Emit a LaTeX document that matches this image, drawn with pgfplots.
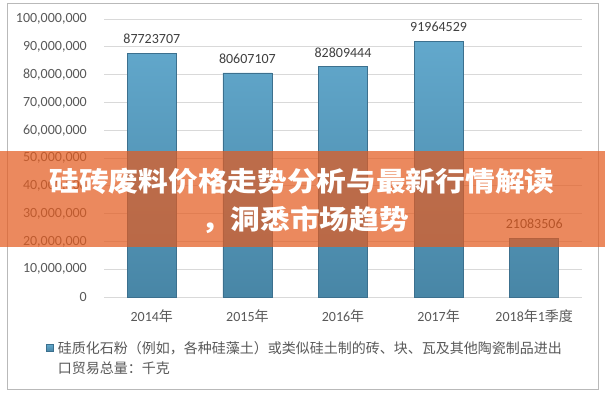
\documentclass[border=0pt]{standalone}
\usepackage{fontspec}
\setmainfont{Carlito}
\newfontfamily\cjk{Noto Sans CJK SC}
\usepackage{graphicx}
\usepackage{pgfplots}
\usepackage{pgfplotstable}
\pgfplotsset{compat=1.18}

\definecolor{tickgray}{RGB}{89,89,89}
\definecolor{labelgray}{RGB}{64,64,64}
\definecolor{gridgray}{RGB}{217,217,217}
\definecolor{barTop}{RGB}{98,168,204}
\definecolor{barBot}{RGB}{72,134,166}
\definecolor{barLine}{RGB}{60,112,142}
\definecolor{framegray}{RGB}{185,185,185}
\definecolor{banner}{RGB}{228,92,32}

% export volume (kg)
\pgfplotstableread{
x y label
0 87723707 87723707
1 80607107 80607107
2 82809444 82809444
3 91964529 91964529
4 21083506 21083506
}\trade

\begin{document}
\begin{tikzpicture}[x=1pt,y=1pt]
\path[use as bounding box] (0,0) rectangle (605,400);
\fill[white] (0,0) rectangle (605,400);
\draw[framegray, line width=1pt] (7,11) rectangle (598,396);

\begin{axis}[
    at={(104pt,103pt)}, anchor=south west,
    scale only axis, width=478pt, height=278pt,
    xmin=-0.5, xmax=4.5, ymin=0, ymax=100000000,
    axis line style={draw=none},
    tick style={draw=none},
    ymajorgrids, grid style={gridgray, line width=0.8pt},
    xtick=data,
    xticklabels={2014{\cjk 年},2015{\cjk 年},2016{\cjk 年},2017{\cjk 年},2018{\cjk 年}1{\cjk 季度}},
    ytick={0,10000000,20000000,30000000,40000000,50000000,60000000,70000000,80000000,90000000,100000000},
    yticklabels={0,{10,000,000},{20,000,000},{30,000,000},{40,000,000},{50,000,000},{60,000,000},{70,000,000},{80,000,000},{90,000,000},{100,000,000}},
    scaled y ticks=false,
    yticklabel style={font=\fontsize{14}{16}\selectfont, text=tickgray, inner sep=0pt, anchor=east, xshift=-17pt},
    xticklabel style={font=\fontsize{14}{16}\selectfont, text=tickgray, inner sep=0pt, anchor=north, yshift=-12pt},
    legend style={at={(rel axis cs:-0.1213,-0.158)}, anchor=north west, draw=none, fill=none,
        inner sep=0pt, font=\cjk\fontsize{14}{20}\selectfont, text=tickgray,
        nodes={inner sep=0pt}, cells={anchor=base west}},
    legend image code/.code={\fill[barTop!70!barBot, draw=barLine, line width=0.5pt] (-11pt,1.8pt) rectangle (-4pt,8.8pt); \path (0pt,0pt);},
]
\addplot[ybar, bar width=49pt, top color=barTop, bottom color=barBot, draw=barLine, line width=0.6pt,
    point meta=explicit symbolic,
    nodes near coords,
    every node near coord/.append style={font=\fontsize{14}{16}\selectfont, text=labelgray, inner sep=0pt, anchor=south, yshift=9pt}]
    table[x=x, y=y, meta=label] {\trade};
\addlegendentry{\parbox[t]{520pt}{硅质化石粉（例如，各种硅藻土）或类似硅土制的砖、块、瓦及其他陶瓷制品进出\\口贸易总量：千克}}
\end{axis}

\fill[banner, opacity=0.72] (0,153) rectangle (605,249);
\node[text=white, font=\cjk\bfseries\fontsize{27}{27}\selectfont, inner sep=0pt] at (302,219)
    {\scalebox{1.1}[1]{硅砖废料价格走势分析与最新行情解读}};
\node[text=white, font=\cjk\bfseries\fontsize{27}{27}\selectfont, inner sep=0pt] at (305,180)
    {\scalebox{1.1}[1]{，洞悉市场趋势}};
\end{tikzpicture}
\end{document}
